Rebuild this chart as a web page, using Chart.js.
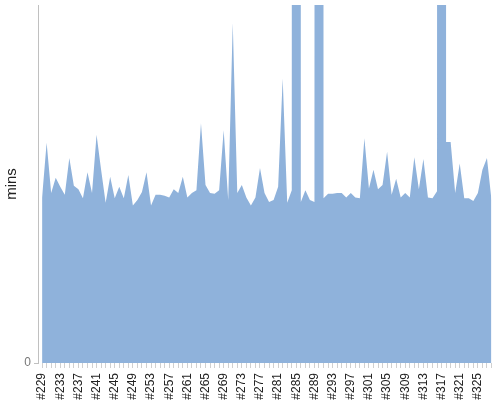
<!DOCTYPE html>
<html>
<head>
<meta charset="UTF-8">
<title>mins</title>
<script src="https://cdn.jsdelivr.net/npm/chart.js"></script>
<style>
  html, body { margin: 0; padding: 0; background: #fff; }
  #wrap { width: 500px; height: 400px; }
</style>
</head>
<body>
<div id="wrap"><canvas id="chart"></canvas></div>
<script>
// build numbers #229 .. #328
const builds = [];
for (let n = 229; n <= 328; n++) builds.push('#' + n);

// minutes per build (three builds go far off the top of the scale)
const mins = [
  18.5, 24.6, 19.0, 20.7, 19.7, 18.8, 22.9, 19.8, 19.4, 18.4,
  21.3, 19.0, 25.5, 21.6, 17.9, 20.8, 18.4, 19.7, 18.4, 21.0,
  17.6, 18.2, 19.1, 21.3, 17.6, 18.8, 18.8, 18.7, 18.5, 19.4,
  19.0, 20.8, 18.5, 19.0, 19.3, 26.8, 19.9, 19.0, 18.9, 19.3,
  26.0, 18.2, 38.0, 19.0, 19.9, 18.5, 17.6, 18.5, 21.8, 19.0,
  18.0, 18.2, 19.7, 31.8, 17.9, 19.3, 2400, 18.0, 19.3, 18.2,
  18.0, 2400, 18.4, 18.9, 18.9, 19.0, 19.0, 18.5, 19.0, 18.5,
  18.4, 25.1, 19.5, 21.6, 19.4, 19.9, 23.6, 18.8, 20.6, 18.5,
  19.0, 18.5, 23.0, 19.4, 22.8, 18.5, 18.4, 19.2, 2400, 24.7,
  24.7, 19.0, 22.3, 18.4, 18.4, 18.1, 19.0, 21.6, 22.9, 18.2
];

const yMax = 40;

new Chart(document.getElementById('chart'), {
  type: 'line',
  data: {
    datasets: [{
      label: 'mins',
      data: mins.map((v, i) => ({ x: i, y: v })),
      backgroundColor: 'rgb(143,178,219)',
      borderWidth: 0,
      pointRadius: 0,
      fill: 'origin',
      tension: 0
    }]
  },
  options: {
    responsive: true,
    maintainAspectRatio: false,
    animation: false,
    layout: { padding: { top: 5, right: 8.5, left: 0, bottom: 0 } },
    plugins: { legend: { display: false }, tooltip: { enabled: false } },
    scales: {
      x: {
        type: 'linear',
        min: -0.9,
        max: builds.length - 1,
        afterBuildTicks: axis => { axis.ticks = builds.map((b, i) => ({ value: i })); },
        afterFit: axis => {
          axis.height = 37;
          axis.paddingLeft = 0;
          axis.paddingRight = 0;
        },
        border: { display: false },
        grid: { drawOnChartArea: false, tickLength: 5, color: '#d0d0d0' },
        ticks: {
          autoSkip: false,
          minRotation: 90,
          maxRotation: 90,
          padding: 5,
          color: '#222',
          font: { family: 'Liberation Sans, Arial, sans-serif', size: 12 },
          callback: v => (v % 4 === 0 ? builds[v] : '')
        }
      },
      y: {
        min: 0,
        max: yMax,
        afterBuildTicks: axis => { axis.ticks = [{ value: 0 }]; },
        afterFit: axis => {
          axis.width = 38;
          axis.paddingTop = 0;
          axis.paddingBottom = 0;
        },
        border: { display: true, color: '#c0c0c0' },
        grid: { drawOnChartArea: false, tickLength: 4, color: '#c0c0c0' },
        ticks: {
          color: '#777',
          padding: 3,
          font: { family: 'Liberation Sans, Arial, sans-serif', size: 12 }
        },
        title: {
          display: true,
          text: 'mins',
          color: '#222',
          padding: { top: 3, bottom: 3 },
          font: { family: 'Liberation Sans, Arial, sans-serif', size: 15 }
        }
      }
    }
  }
});
</script>
</body>
</html>
